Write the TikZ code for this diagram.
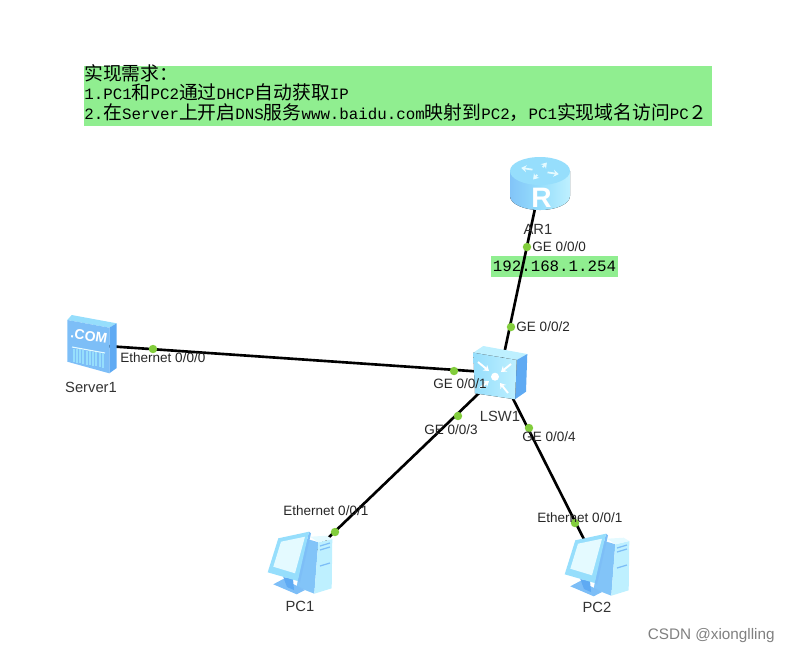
\documentclass[tikz,border=0pt]{standalone}
\usepackage{fontspec}
\setmainfont{Liberation Sans}
\setmonofont{Liberation Mono}
\newfontfamily\cjk{Noto Sans CJK SC}
\usetikzlibrary{arrows.meta, positioning}
\definecolor{notegreen}{RGB}{144,238,144}
\definecolor{portgreen}{RGB}{130,205,60}
\definecolor{iconpale}{RGB}{228,250,255}
\definecolor{iconlight}{RGB}{190,240,255}
\definecolor{iconmid}{RGB}{150,222,252}
\definecolor{iconblue}{RGB}{125,190,247}
\definecolor{icondark}{RGB}{95,170,243}
\newcommand{\zh}[1]{{\cjk\fontsize{10.7pt}{11pt}\selectfont #1}}
\tikzset{
  note/.style={fill=notegreen, inner sep=0pt, font=\ttfamily\fontsize{9pt}{11.1pt}\selectfont},
  link/.style={black, line width=1.5pt},
  port/.style={circle, fill=portgreen, inner sep=0pt, minimum size=4.8pt},
  portlabel/.style={text=black!85, inner sep=0pt, font=\fontsize{7.7pt}{9pt}\selectfont},
  devlabel/.style={text=black!80, inner sep=0pt, font=\fontsize{8.4pt}{10pt}\selectfont},
  arrowwhite/.style={white, line width=1.1pt, -{Stealth[length=3pt,width=4pt]}},
  routericon/.pic={
    \fill[left color=iconblue!80!iconmid, right color=iconlight, middle color=iconmid]
      (-30,-14) -- (-30,11) arc[start angle=180, end angle=360, x radius=30, y radius=-14] -- (30,-14) -- cycle;
    \fill[iconmid] (0,-14) ellipse[x radius=30, y radius=14];
    \foreach \a in {20,110,200,290}
      \draw[iconpale, line width=1pt, -{Stealth[length=3pt,width=4pt]}]
        ({8*cos(\a)},{-14+4*sin(\a)}) -- ({20*cos(\a)},{-14+9*sin(\a)});
    \node[white, font=\bfseries\fontsize{16pt}{16pt}\selectfont, inner sep=0pt] (rlabel) at (1.5,13) {R};
  },
  switchicon/.pic={
    \fill[iconlight] (-26.7,-20.3) -- (-16.7,-27) -- (27.3,-19) -- (16.7,-13) -- cycle;
    \fill[icondark] (16.7,-13) -- (27.3,-19) -- (26,18.7) -- (15,26.3) -- cycle;
    \fill[left color=iconmid, right color=iconlight] (-26.7,-20.3) -- (16.7,-13) -- (15,26.3) -- (-25,20.3) -- cycle;
    \draw[arrowwhite] (-22,-11) -- (-11,-2);
    \draw[arrowwhite] (11,-9) -- (1,-1);
    \draw[arrowwhite] (-20,15) -- (-11,8);
    \draw[arrowwhite] (8,20) -- (0,10);
    \fill[white] (-5,3.7) circle (4);
  },
  servericon/.pic={
    \fill[iconmid] (-24.7,-25) -- (-20.3,-30) -- (24.7,-21.7) -- (17.3,-17.3) -- cycle;
    \fill[icondark] (17.3,-17.3) -- (24.7,-21.7) -- (24.7,23) -- (17.3,28.3) -- cycle;
    \fill[iconblue] (-24.7,-25) -- (17.3,-17.3) -- (17.3,28.3) -- (-24.7,16.7) -- cycle;
    \node[white, font=\bfseries\fontsize{8pt}{9pt}\selectfont, inner sep=0pt, rotate=-9] (comlabel) at (-3,-9) {.COM};
    \draw[iconpale, line width=.6pt] (-20,2) -- (13,8);
    \foreach \x in {-18,-15,-12,-9,-5,-2,1,4,8,11}
      \draw[iconmid, line width=.6pt] (\x,{3.5+(\x+18)*.16}) -- (\x,{17+(\x+18)*.2});
  },
  pcicon/.pic={
    % unite centrale
    \fill[iconblue!80!iconmid] (5,-26.7) -- (18.3,-22.7) -- (14.3,28.7) -- (-3.3,21.7) -- cycle;
    \fill[iconlight] (18.3,-22.7) -- (32.3,-26) -- (31.7,23.3) -- (14.3,28.7) -- cycle;
    \fill[iconpale] (10,-28.3) -- (26.7,-29.3) -- (32.3,-26) -- (18.3,-22.7) -- cycle;
    \draw[iconblue, line width=.7pt] (20,-19) -- (30,-22) (20,-15) -- (30,-18) (20,1) -- (30,-2);
    % pied
    \fill[iconblue] (-26.7,19.3) -- (-16.7,14) -- (5,25) -- (-3.3,29.3) -- cycle;
    \fill[icondark] (-16.7,12) -- (-7,14) -- (-6,25) -- (-13,22) -- cycle;
    % ecran
    \fill[iconblue] (9,-33.3) -- (11,-31.7) -- (0,17.3) -- (-2.3,16) -- cycle;
    \fill[iconmid] (-21.7,-26.7) -- (9,-33.3) -- (-2.3,16) -- (-32.3,7.3) -- cycle;
    \fill[iconpale] (-19,-23.3) -- (5,-28.3) -- (-5,8.3) -- (-26.7,1.7) -- cycle;
  }
}
\begin{document}
\begin{tikzpicture}[x=0.02cm, y=-0.02cm]
  \useasboundingbox (0,0) rectangle (789,654);

  % Consigne
  \node[note, anchor=north west, minimum width=628*0.02cm, minimum height=60*0.02cm] (demand) at (84,66) {};
  \node[note, fill=none, anchor=west, text width=627*0.02cm, align=left] (demandtext) at (84,93)
    {\zh{实现需求：}\\
     1.PC1\zh{和}PC2\zh{通过}DHCP\zh{自动获取}IP\\
     2.\zh{在}Server\zh{上开启}DNS\zh{服务}www.baidu.com\zh{映射到}PC2\zh{，}PC1\zh{实现域名访问}PC\zh{２}};
  \node[note, minimum width=127*0.02cm, minimum height=21*0.02cm] (gateway) at (554.5,266.5) {192.168.1.254};

  % Appareils
  \coordinate (AR1) at (540,185);
  \coordinate (LSW1) at (500,373);
  \coordinate (Server1) at (92,345);
  \coordinate (PC1) at (300,565);
  \coordinate (PC2) at (597,565);

  % Liens
  \draw[link] (AR1) -- (LSW1);
  \draw[link] (Server1) -- (LSW1);
  \draw[link] (LSW1) -- (PC1);
  \draw[link] (LSW1) -- (PC2);

  \pic at (AR1) {routericon};
  \pic at (LSW1) {switchicon};
  \pic at (Server1) {servericon};
  \pic at (PC1) {pcicon};
  \pic at (597,567) {pcicon};

  % Ports
  \foreach \x/\y/\name in {527/247/a, 511/327/b, 454/371/c, 458/416/d, 529/428/e,
                           153/349/f, 335/532/g, 575/523/h}
    \node[port] (port\name) at (\x,\y) {};

  \node[portlabel, right=0.3pt of porta] (portlabela) {GE 0/0/0};
  \node[portlabel, right=0.3pt of portb] (portlabelb) {GE 0/0/2};
  \node[portlabel, anchor=west] (portlabelc) at (433,384) {GE 0/0/1};
  \node[portlabel, anchor=west] (portlabeld) at (424,430) {GE 0/0/3};
  \node[portlabel, anchor=west] (portlabele) at (522,437) {GE 0/0/4};
  \node[portlabel, anchor=west] (portlabelf) at (120,358) {Ethernet 0/0/0};
  \node[portlabel, anchor=west] (portlabelg) at (283,511) {Ethernet 0/0/1};
  \node[portlabel, anchor=west] (portlabelh) at (537,518) {Ethernet 0/0/1};

  % Noms
  \node[devlabel] (labelAR1) at (538,229) {AR1};
  \node[devlabel] (labelLSW1) at (500,416) {LSW1};
  \node[devlabel] (labelServer1) at (91,387) {Server1};
  \node[devlabel] (labelPC1) at (300,606) {PC1};
  \node[devlabel] (labelPC2) at (597,607) {PC2};

  \node[text=black!50, inner sep=0pt, font=\fontsize{8.7pt}{10pt}\selectfont, anchor=east] (mark) at (775,636) {CSDN @xionglling};
\end{tikzpicture}
\end{document}
